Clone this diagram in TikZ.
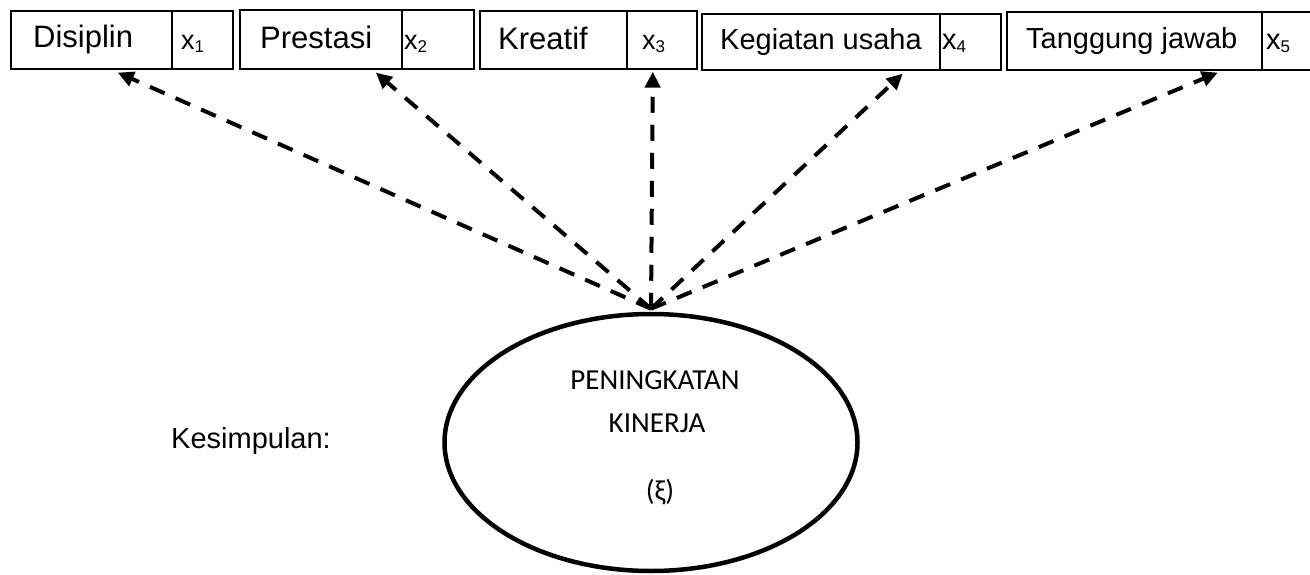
\documentclass[tikz,border=0pt]{standalone}
\usepackage{fontspec}
\setmainfont{Liberation Sans}
\newfontfamily\calibrilike{Carlito}
\usetikzlibrary{arrows.meta,shapes.geometric}

% variable with a lowered index, e.g. x_1
\newcommand{\varidx}[1]{x\raisebox{-2.5pt}{\fontsize{17}{17}\selectfont #1}}

\begin{document}
\begin{tikzpicture}[x=1pt,y=-1pt,
  cell/.style={draw, line width=1.6pt, rectangle, inner sep=0pt, anchor=north west},
  lblbig/.style={anchor=base west, inner sep=0pt, font=\fontsize{31}{36}\selectfont},
  lblsmall/.style={anchor=base west, inner sep=0pt, font=\fontsize{29}{34}\selectfont},
  varbig/.style={anchor=base west, inner sep=0pt, font=\fontsize{27}{32}\selectfont},
  varsmall/.style={anchor=base west, inner sep=0pt, font=\fontsize{29}{34}\selectfont},
  etxt/.style={anchor=base, inner sep=0pt, font=\calibrilike\fontsize{29}{34}\selectfont},
  link/.style={line width=4pt, dash pattern=on 16pt off 12pt,
    -{Triangle[length=16pt,width=15pt]}}
]
\useasboundingbox (0,0) rectangle (1310,575);
\clip (0,0) rectangle (1310,575);

% indicator boxes: label cell + variable cell
\node[cell, minimum width=161pt, minimum height=58pt] (c1) at (10,10) {};
\node[cell, minimum width=61pt,  minimum height=58pt] (v1) at (171,10) {};
\node[cell, minimum width=162pt, minimum height=59pt] (c2) at (239,9) {};
\node[cell, minimum width=72pt,  minimum height=59pt] (v2) at (401,9) {};
\node[cell, minimum width=147pt, minimum height=58pt] (c3) at (479,10) {};
\node[cell, minimum width=70pt,  minimum height=58pt] (v3) at (626,10) {};
\node[cell, minimum width=238pt, minimum height=56pt] (c4) at (701,13) {};
\node[cell, minimum width=61pt,  minimum height=56pt] (v4) at (939,13) {};
\node[cell, minimum width=255pt, minimum height=58pt] (c5) at (1006,11) {};
\node[cell, minimum width=70pt,  minimum height=58pt] (v5) at (1261,11) {};

\node[lblbig] (t1) at (33,48) {Disiplin};
\node[varbig] (x1) at (181,50) {\varidx{1}};
\node[lblbig] (t2) at (260,49) {Prestasi};
\node[varbig] (x2) at (404,50) {\varidx{2}};
\node[lblbig] (t3) at (498,50) {Kreatif};
\node[varbig] (x3) at (642,50) {\varidx{3}};
\node[lblsmall] (t4) at (720,50) {Kegiatan usaha};
\node[varsmall] (x4) at (942,50) {\varidx{4}};
\node[lblsmall] (t5) at (1026,49) {Tanggung jawab};
\node[varsmall] (x5) at (1266,50) {\varidx{5}};

% latent construct
\node[draw, ellipse, line width=4.5pt, minimum width=413pt, minimum height=257pt,
  inner sep=0pt] (ell) at (651,442.5) {};
\node[etxt] (e1) at (655,389) {PENINGKATAN};
\node[etxt] (e2) at (657,432) {KINERJA};
\node[etxt] (e3) at (660,500) {(ξ)};

\node[lblsmall] (kes) at (171,448) {Kesimpulan:};

% loadings
\coordinate (src) at ([yshift=3pt]ell.north);
\draw[link] (src) -- ([xshift=26.5pt,yshift=-3pt]c1.south);
\draw[link] (src) -- ([xshift=55pt,yshift=-3pt]c2.south);
\draw[link] (src) -- ([xshift=-9pt,yshift=-2pt]v3.south);
\draw[link] (src) -- ([xshift=82pt,yshift=-3pt]c4.south);
\draw[link] (src) -- ([xshift=83.5pt,yshift=-2pt]c5.south);
\end{tikzpicture}
\end{document}
